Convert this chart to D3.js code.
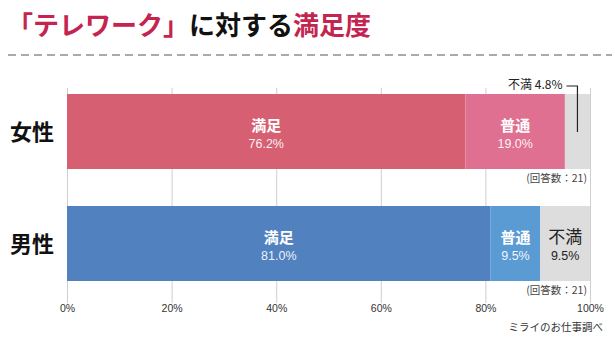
<!DOCTYPE html>
<html>
<head>
<meta charset="utf-8">
<script src="https://cdn.jsdelivr.net/npm/d3@7"></script>
<style>
  html, body { margin: 0; padding: 0; background: #fff; }
  svg { display: block; font-family: "Noto Sans CJK JP", "Noto Sans", sans-serif; }
</style>
</head>
<body>
<svg id="chart" width="615" height="343"></svg>
<script>
// Survey data: satisfaction with telework, by gender
const groups = ["女性", "男性"];
const answers = ["満足", "普通", "不満"];
const womenValues = [76.2, 19.0, 4.8];
const menValues = [81.0, 9.5, 9.5];
const respondents = [21, 21];
const tickValues = [0, 20, 40, 60, 80, 100];

const palette = {
  "女性": ["#d66072", "#e07092", "#dddddd"],
  "男性": ["#5182bf", "#5a9bd3", "#dddddd"]
};

const svg = d3.select("#chart");

// Title with highlighted words
const title = svg.append("text")
  .attr("x", 7).attr("y", 35)
  .attr("font-size", 26).attr("font-weight", 700);
title.append("tspan").attr("fill", "#c4244f").text("「テレワーク」");
title.append("tspan").attr("fill", "#111").text("に対する");
title.append("tspan").attr("fill", "#c4244f").text("満足度");

svg.append("line")
  .attr("x1", 8).attr("x2", 612).attr("y1", 55).attr("y2", 55)
  .attr("stroke", "#aaa").attr("stroke-width", 2)
  .attr("stroke-dasharray", "8,5");

const x = d3.scaleLinear().domain([0, 100]).range([67, 590]);
const y = d3.scaleBand().domain(groups).range([94, 281]).paddingInner(37 / 112);

// Grid lines and percentage ticks
const axis = d3.axisBottom(x)
  .tickValues(tickValues)
  .tickFormat(d => d + "%")
  .tickSize(-(303 - 88))
  .tickPadding(2);
const ax = svg.append("g").attr("transform", "translate(0,303)").call(axis);
ax.select(".domain").remove();
ax.selectAll(".tick line").attr("stroke", "#cfcfcf");
ax.selectAll(".tick text")
  .attr("font-size", 10.5).attr("fill", "#333")
  .attr("font-family", "'Liberation Sans', Arial, sans-serif");

const rows = [
  { group: "女性", values: womenValues, n: respondents[0] },
  { group: "男性", values: menValues, n: respondents[1] }
];

rows.forEach(row => {
  let acc = 0;
  const segs = row.values.map((v, i) => {
    const s = { answer: answers[i], value: v, x0: acc, x1: acc + v, color: palette[row.group][i] };
    acc += v;
    return s;
  });
  const g = svg.append("g");
  const y0 = y(row.group), bh = y.bandwidth();

  g.selectAll("rect").data(segs).join("rect")
    .attr("x", d => x(d.x0))
    .attr("width", d => x(Math.min(d.x1, 100)) - x(d.x0))
    .attr("y", y0).attr("height", bh)
    .attr("fill", d => d.color);

  // Row label
  svg.append("text")
    .attr("x", 10).attr("y", y0 + bh / 2 + 3)
    .attr("dominant-baseline", "middle")
    .attr("font-size", 22).attr("font-weight", 700).attr("fill", "#111")
    .text(row.group);

  // Segment labels inside bars (wide enough ones)
  segs.forEach((d, i) => {
    const w = x(d.x1) - x(d.x0);
    if (w < 30) return;
    const cx = (x(d.x0) + x(Math.min(d.x1, 100))) / 2;
    const isGray = i === 2;
    svg.append("text")
      .attr("x", cx).attr("y", y0 + bh / 2 - 5)
      .attr("text-anchor", "middle").attr("dominant-baseline", "middle")
      .attr("font-size", isGray ? 17 : 15).attr("font-weight", isGray ? 400 : 700)
      .attr("fill", isGray ? "#222" : "#fff")
      .text(d.answer);
    svg.append("text")
      .attr("x", cx).attr("y", y0 + bh / 2 + 13)
      .attr("text-anchor", "middle").attr("dominant-baseline", "middle")
      .attr("font-size", 12.5)
      .attr("font-family", "'Liberation Sans', Arial, sans-serif")
      .attr("fill", isGray ? "#222" : "rgba(255,255,255,0.92)")
      .text(d.value.toFixed(1) + "%");
  });

  // Callout for narrow segments
  segs.forEach(d => {
    const w = x(d.x1) - x(d.x0);
    if (w >= 30) return;
    const cx = (x(d.x0) + x(Math.min(d.x1, 100))) / 2;
    svg.append("path")
      .attr("d", `M${cx - 11},${y0 - 8}H${cx}V${y0 + 38}`)
      .attr("fill", "none").attr("stroke", "#222").attr("stroke-width", 1.2);
    svg.append("text")
      .attr("x", cx - 15).attr("y", y0 - 8)
      .attr("text-anchor", "end").attr("dominant-baseline", "middle")
      .attr("font-size", 12).attr("fill", "#222")
      .text(d.answer + " " + d.value.toFixed(1) + "%");
  });

  // Respondent count
  svg.append("text")
    .attr("x", 587).attr("y", y0 + bh + 10)
    .attr("text-anchor", "end").attr("dominant-baseline", "middle")
    .attr("font-size", 10.5).attr("fill", "#444")
    .text("(回答数：" + row.n + ")");
});

// Source note
svg.append("text")
  .attr("x", 603).attr("y", 328)
  .attr("text-anchor", "end").attr("dominant-baseline", "middle")
  .attr("font-size", 10.5).attr("fill", "#333")
  .text("ミライのお仕事調べ");
</script>
</body>
</html>
